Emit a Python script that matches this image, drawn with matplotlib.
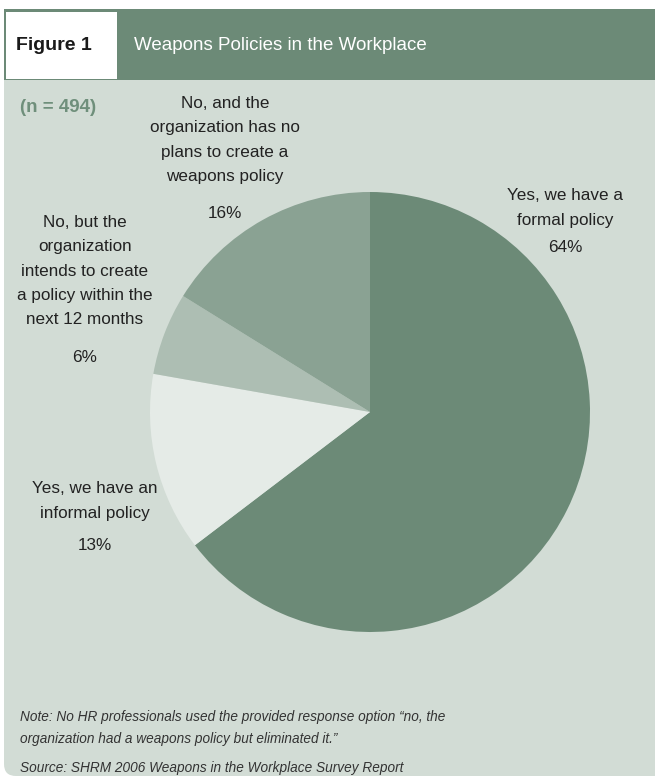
import matplotlib.pyplot as plt
from matplotlib.patches import Rectangle, FancyBboxPatch

# survey answers, clockwise from 12 o'clock
labels = ["Yes, we have a\nformal policy",
          "Yes, we have an\ninformal policy",
          "No, but the\norganization\nintends to create\na policy within the\nnext 12 months",
          "No, and the\norganization has no\nplans to create a\nweapons policy"]
shares = [64, 13, 6, 16]
colors = ["#6c8a77", "#e5ebe7", "#adbeb3", "#8aa293"]
# centre of each label block and the y of its percent line (pixels)
label_pos = [(565, 208), (95, 501), (85, 271), (225, 140)]
pct_y = [248, 545, 357, 213]

W, H = 655, 776
DARK = "#6c8a77"
BODY = "#d2dcd5"
FONT = ["Liberation Sans Narrow", "Liberation Sans", "DejaVu Sans"]

fig = plt.figure(figsize=(W / 100, H / 100), dpi=100)
fig.patch.set_facecolor("white")

# frame axes in pixel units
bg = fig.add_axes([0, 0, 1, 1])
bg.set_xlim(0, W)
bg.set_ylim(H, 0)
bg.axis("off")

bg.add_patch(FancyBboxPatch((4, 60), W + 20, H - 60, boxstyle="round,pad=0,rounding_size=12",
                            facecolor=BODY, edgecolor="none"))
bg.add_patch(Rectangle((4, 9), W, 71, facecolor=DARK, edgecolor="none"))
bg.add_patch(Rectangle((6, 12), 111, 67, facecolor="white", edgecolor="none"))

bg.text(54, 46, "Figure 1", family=FONT, fontsize=14, fontweight="bold",
        color="#1a1a1a", ha="center", va="center")
bg.text(134, 46, "Weapons Policies in the Workplace", family=FONT, fontsize=13.5,
        color="white", ha="left", va="center")
bg.text(20, 107, "(n = 494)", family=FONT, fontsize=13.5, fontweight="bold",
        color="#6f8f7b", ha="left", va="center")

for lab, (x, y), py, v in zip(labels, label_pos, pct_y, shares):
    bg.text(x, y, lab, family=FONT, fontsize=12.3, color="#222222",
            ha="center", va="center", multialignment="center", linespacing=1.78)
    bg.text(x, py, f"{v}%", family=FONT, fontsize=12.3, color="#222222",
            ha="center", va="center")

bg.text(20, 717, "Note: No HR professionals used the provided response option \u201cno, the",
        family=FONT, fontsize=9.8, style="italic", color="#333333", va="center")
bg.text(20, 739, "organization had a weapons policy but eliminated it.\u201d",
        family=FONT, fontsize=9.8, style="italic", color="#333333", va="center")
bg.text(20, 768, "Source: SHRM 2006 Weapons in the Workplace Survey Report",
        family=FONT, fontsize=9.8, style="italic", color="#333333", va="center")

# pie, centre (370, 412) radius 220 px
cx, cy, r = 370, 412, 220
pie_ax = fig.add_axes([(cx - r) / W, (H - cy - r) / H, 2 * r / W, 2 * r / H])
pie_ax.pie(shares, colors=colors, startangle=90, counterclock=False,
           wedgeprops=dict(linewidth=0))
pie_ax.set_xlim(-1, 1)
pie_ax.set_ylim(-1, 1)
pie_ax.set_aspect("equal")

fig.savefig("out.png", dpi=100, facecolor=fig.get_facecolor())
